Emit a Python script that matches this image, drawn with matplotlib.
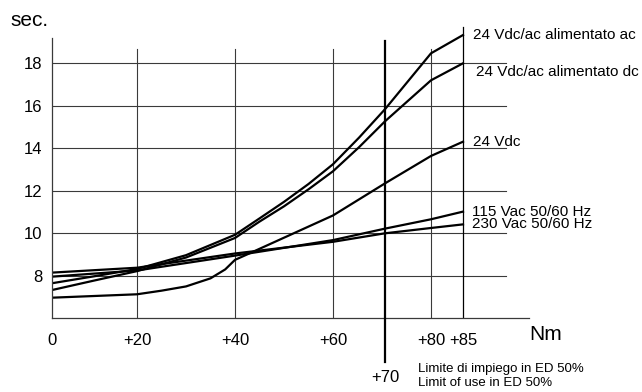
import numpy as np
import matplotlib
matplotlib.use("Agg")
import matplotlib.pyplot as plt

plt.rcParams['font.family'] = ['Liberation Sans', 'DejaVu Sans']

# torque (Nm) vs time (sec.)
torque = [0, 10, 20, 30, 40, 45, 50, 55, 60, 65, 70, 80, 85]
ac_supply = [7.65, 7.98, 8.32, 8.97, 9.93, 10.7, 11.48, 12.32, 13.25, 14.5, 15.84, 18.47, 19.33]
dc_supply = [7.33, 7.78, 8.22, 8.86, 9.78, 10.55, 11.27, 12.07, 12.92, 14.05, 15.27, 17.2, 18.0]

torque_vdc = [0, 20, 25, 30, 35, 38, 40, 43, 60, 70, 80, 85]
vdc_24 = [6.97, 7.13, 7.3, 7.5, 7.88, 8.3, 8.75, 9.06, 10.84, 12.35, 13.64, 14.31]

torque_vac = [0, 20, 40, 60, 70, 80, 85]
vac_115 = [7.96, 8.25, 8.95, 9.68, 10.22, 10.66, 11.02]
vac_230 = [8.15, 8.38, 9.05, 9.6, 10.0, 10.25, 10.42]

series_labels = ["24 Vdc/ac alimentato ac", "24 Vdc/ac alimentato dc", "24 Vdc",
                 "115 Vac 50/60 Hz", "230 Vac 50/60 Hz"]
x_ticks = [0, 20, 40, 60, 80, 85]
x_ticklabels = ["0", "+20", "+40", "+60", "+80", "+85"]
y_ticks = [8, 10, 12, 14, 16, 18]
limit_x = 70

# the original drawing is not evenly spaced along x
scale_pts = [0, 20, 40, 60, 70, 80, 85, 100]
scale_pos = [52, 137, 235, 333, 385, 431, 463, 559]

def fwd(x):
    return np.interp(x, scale_pts, scale_pos)

def inv(p):
    return np.interp(p, scale_pos, scale_pts)

fig = plt.figure(figsize=(6.42, 3.92), dpi=100)
ax = fig.add_axes([52 / 642, 73.7 / 392, (559 - 52) / 642, 297.5 / 392])
ax.set_xscale('function', functions=(fwd, inv))
ax.set_xlim(0, 100)
ax.set_ylim(6, 20)

grid_c = '#3a3a3a'
for y in y_ticks:
    ax.plot([0, 91.7], [y, y], color=grid_c, lw=0.8, zorder=1)
for x in [20, 40, 60, 80]:
    ax.plot([x, x], [6, 18.66], color=grid_c, lw=0.8, zorder=1)
ax.plot([85, 85], [6, 19.73], color='black', lw=0.9, zorder=1)
ax.plot([limit_x, limit_x], [3.94, 19.06], color='black', lw=1.6, zorder=3, clip_on=False)

series = [(torque, ac_supply), (torque, dc_supply), (torque_vdc, vdc_24),
          (torque_vac, vac_115), (torque_vac, vac_230)]
offsets = [(7, 0), (9.5, -6.5), (7, 0), (6.5, 0), (6.5, 0)]
for (xs, ys), lab, off in zip(series, series_labels, offsets):
    ax.plot(xs, ys, color='black', lw=1.6, zorder=2, solid_joinstyle='round')
    ax.annotate(lab, xy=(xs[-1], ys[-1]), xytext=off, textcoords='offset points',
                ha='left', va='center', fontsize=11)

for s in ['top', 'right']:
    ax.spines[s].set_visible(False)
ax.spines['left'].set_bounds(6, 19.2)
ax.spines['bottom'].set_bounds(0, 95.3)
ax.spines['left'].set_color(grid_c)
ax.spines['bottom'].set_color(grid_c)
ax.spines['left'].set_linewidth(0.9)
ax.spines['bottom'].set_linewidth(0.9)

ax.set_xticks(x_ticks)
ax.set_xticklabels(x_ticklabels)
ax.set_yticks(y_ticks)
ax.tick_params(axis='both', length=0, labelsize=12)
ax.tick_params(axis='x', pad=10.5)
ax.tick_params(axis='y', pad=7)
ax.xaxis.set_minor_locator(matplotlib.ticker.NullLocator())

ax.text(limit_x, 3.2, "+70", ha='center', va='center', fontsize=12, clip_on=False)
fig.text(418 / 642, 1 - 369 / 392, "Limite di impiego in ED 50%", fontsize=9.5, va='center')
fig.text(418 / 642, 1 - 383 / 392, "Limit of use in ED 50%", fontsize=9.5, va='center')
fig.text(10 / 642, 1 - 20 / 392, "sec.", fontsize=15, va='center')
fig.text(529 / 642, 1 - 334 / 392, "Nm", fontsize=15, va='center')

fig.savefig("out.png", dpi=100)
